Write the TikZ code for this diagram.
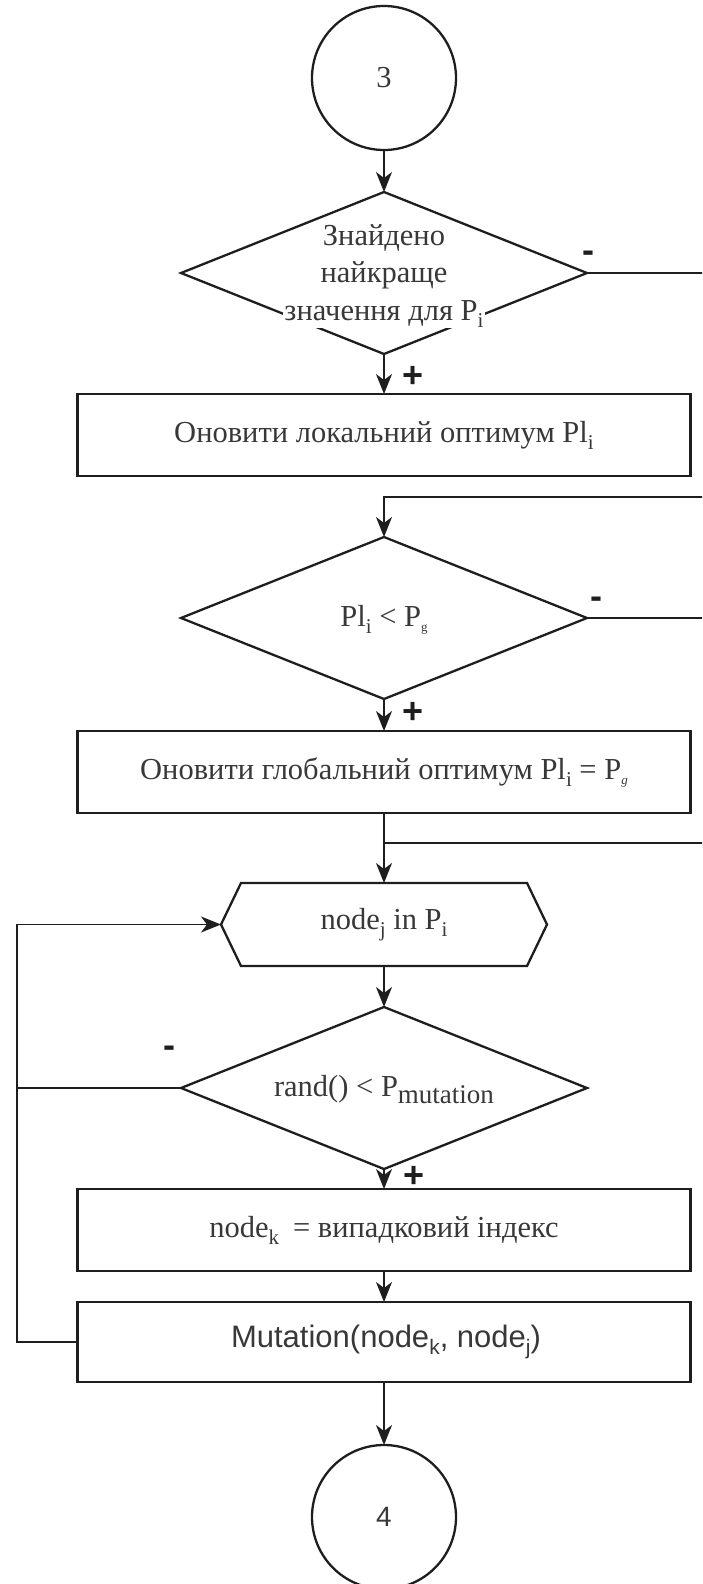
\documentclass[tikz,border=0pt]{standalone}
\usepackage{fontspec}
\setmainfont{Liberation Serif}
\setsansfont{Liberation Sans}
\usetikzlibrary{shapes.geometric,arrows.meta,calc}

\definecolor{ink}{HTML}{1E1E1E}
\definecolor{txt}{HTML}{383838}

% lowered subscripts in the style of the flowchart labels
\newcommand\lsub[1]{\raisebox{-7pt}{\fontsize{21}{21}\selectfont #1}}
\newcommand\msub[1]{\raisebox{-7pt}{\fontsize{27}{27}\selectfont #1}}
\newcommand\gsub[1]{\raisebox{-5pt}{\fontsize{13}{13}\selectfont #1}}

\begin{document}
\begin{tikzpicture}[x=1pt,y=-1pt,
  every node/.style={text=txt, font=\fontsize{30.5}{37.5}\selectfont},
  frame/.style={draw=ink, line width=2.3pt, outer sep=0pt},
  procbox/.style={frame, rectangle, minimum width=613pt, minimum height=82pt, inner sep=0pt},
  decision/.style={frame, diamond, minimum width=406pt, minimum height=162pt, inner sep=0pt},
  terminal/.style={frame, circle, minimum size=144pt, inner sep=0pt},
  flow/.style={draw=ink, line width=1.9pt, -{Stealth[length=20pt,width=16pt,inset=6pt]}},
  wire/.style={draw=ink, line width=1.9pt},
  sign/.style={font=\sffamily\bfseries\fontsize{36}{36}\selectfont, text=ink, inner sep=0pt},
]
\useasboundingbox (0,0) rectangle (702,1584);
\clip (0,0) rectangle (702,1584);

% main column
\node[terminal] (c3) at (384,78) {3};
\node[decision] (d1) at (384,273) {};
\node[align=center, inner sep=0pt, anchor=base] (d1t) at (384,320)
  {Знайдено\\найкраще\\\setlength{\fboxsep}{1pt}\colorbox{white}{значення для P\lsub{i}}};
\node[procbox] (b1) at (384,435) {Оновити локальний оптимум Pl\lsub{i}};
\node[decision] (d2) at (384,618) {};
\node[inner sep=0pt] (d2t) at (384,620) {Pl\lsub{i} < P\gsub{g}};
\node[procbox] (b2) at (384,772) {Оновити глобальний оптимум Pl\lsub{i} = P\gsub{\textit{g}}};

% loop header (hexagon)
\node[minimum width=286pt, minimum height=83pt, inner sep=0pt, outer sep=0pt] (hx) at (384,924.5)
  {node\lsub{j} in P\lsub{i}};
\coordinate (hxw) at ($(hx.west)+(-20,0)$);
\coordinate (hxe) at ($(hx.east)+(20,0)$);
\draw[frame] (hx.north west) -- (hx.north east) -- (hxe) -- (hx.south east)
  -- (hx.south west) -- (hxw) -- cycle;

\node[decision] (d3) at (384,1088) {};
\node[inner sep=0pt] (d3t) at (384,1090) {rand() < P\msub{mutation}};
\node[procbox] (b3) at (384,1230) {node\lsub{k}\hspace{14pt}= випадковий індекс};
\node[procbox, minimum height=80pt, font=\sffamily\fontsize{31}{36}\selectfont] (b4) at (384,1342)
  {\hspace{4pt}Mutation(node\lsub{k}, node\lsub{j})};
\node[terminal, font=\sffamily\fontsize{28}{34}\selectfont] (c4) at (384,1517) {4};

% helper coordinates for the side routes
\coordinate (lx) at (17,0);
\coordinate (rx) at (740,0);
\coordinate (j1) at (384,497);
\coordinate (j2) at (384,843);

% vertical flow
\draw[flow] (c3) -- (d1);
\draw[flow] (d1) -- (b1);
\draw[flow] (d2) -- (b2);
\draw[flow] (b2) -- (hx.north);
\draw[flow] (hx.south) -- (d3);
\draw[flow] (d3) -- (b3);
\draw[flow] (b3) -- (b4);
\draw[flow] (b4) -- (c4);

% "no" branches on the right
\draw[flow] (d1.east) -- (d1.east -| rx) -- (rx |- j1) -- (j1) -- (d2.north);
\draw[wire] (d2.east) -- (d2.east -| rx) -- (rx |- j2) -- (j2);

% loop back on the left
\draw[flow] (b4.west) -- (b4.west -| lx) -- (lx |- hxw) -- (hxw);
\draw[wire] (d3.west) -- (d3.west -| lx);

% branch signs
\node[sign] (s1p) at (413,377) {+};
\node[sign] (s2p) at (413,713) {+};
\node[sign] (s3p) at (414,1177) {+};
\node[sign] (s1m) at (588,257) {-};
\node[sign] (s2m) at (596,603) {-};
\node[sign] (s3m) at (169,1052) {-};
\end{tikzpicture}
\end{document}
